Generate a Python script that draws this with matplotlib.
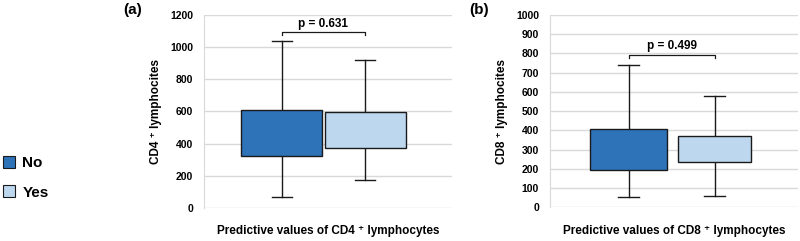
import matplotlib.pyplot as plt
from matplotlib.patches import Patch

# font settings
plt.rcParams['font.family'] = ['Liberation Sans', 'DejaVu Sans']
plt.rcParams['font.weight'] = 'bold'

groups = ["No", "Yes"]
colors = ["#2e72b8", "#bdd7ee"]

# CD4 box stats: whislo, q1, med, q3, whishi
cd4_low = [70, 174]
cd4_q1 = [325, 371]
cd4_med = [455, 468]
cd4_q3 = [610, 597]
cd4_high = [1040, 918]
cd4_p = "p = 0.631"

# CD8 box stats
cd8_low = [52, 60]
cd8_q1 = [194, 235]
cd8_med = [276, 294]
cd8_q3 = [409, 371]
cd8_high = [740, 579]
cd8_p = "p = 0.499"


def make_stats(lo, q1, med, q3, hi):
	stats = []
	for i in range(len(groups)):
		stats.append({"whislo": lo[i], "q1": q1[i], "med": med[i],
			"q3": q3[i], "whishi": hi[i], "fliers": []})
	return stats


def draw_panel(ax, stats, widths, ymax, ystep, xlim, ylabel, xlabel, ptxt, pbar):
	bp = ax.bxp(stats, positions=[1, 2], widths=widths, patch_artist=True,
		showfliers=False, capwidths=0.24,
		boxprops=dict(edgecolor="#1a1a1a", linewidth=1.0),
		medianprops=dict(color="#1a1a1a", linewidth=1.0),
		whiskerprops=dict(color="#1a1a1a", linewidth=1.0),
		capprops=dict(color="#1a1a1a", linewidth=1.0))
	for patch, c in zip(bp["boxes"], colors):
		patch.set_facecolor(c)
		patch.set_zorder(3)

	ax.set_xlim(xlim)
	ax.set_ylim(0, ymax)
	ax.set_yticks(range(0, ymax + 1, ystep))
	ax.set_xticks([])
	ax.yaxis.grid(True, color="#d9d9d9", linewidth=1.0)
	ax.set_axisbelow(True)
	for s in ["top", "right", "bottom"]:
		ax.spines[s].set_visible(False)
	ax.spines["left"].set_color("#d9d9d9")
	ax.tick_params(axis="y", length=0, labelsize=7.5, pad=8)
	for lab in ax.get_yticklabels():
		lab.set_fontweight("bold")
	ax.set_ylabel(ylabel, fontsize=8.5, fontweight="bold", labelpad=6)
	ax.set_xlabel(xlabel, fontsize=8.5, fontweight="bold", labelpad=12.5)

	# significance bracket
	yb, tick = pbar
	ax.plot([1, 1, 2, 2], [yb - tick, yb, yb, yb - tick], color="#1a1a1a",
		linewidth=0.9, clip_on=False)
	ax.text(1.5, yb + tick * 0.8, ptxt, ha="center", va="bottom",
		fontsize=8.5, fontweight="bold")


fig = plt.figure(figsize=(8, 2.41), dpi=100)
ax1 = fig.add_axes([0.255, 0.137, 0.31, 0.801])
ax2 = fig.add_axes([0.6875, 0.14, 0.31, 0.798])

draw_panel(ax1, make_stats(cd4_low, cd4_q1, cd4_med, cd4_q3, cd4_high),
	0.97, 1200, 200, (0.072, 3.04), "CD4 \u207a lymphocites",
	"Predictive values of CD4 \u207a lymphocytes", cd4_p, (1095, 18))
draw_panel(ax2, make_stats(cd8_low, cd8_q1, cd8_med, cd8_q3, cd8_high),
	[0.9, 0.85], 1000, 100, (0.087, 2.97), "CD8 \u207a lymphocites",
	"Predictive values of CD8 \u207a lymphocytes", cd8_p, (793, 15))

fig.text(0.166, 0.94, "(a)", fontsize=11, fontweight="bold", ha="center")
fig.text(0.599, 0.94, "(b)", fontsize=11, fontweight="bold", ha="center")

handles = [Patch(facecolor=c, edgecolor="#1a1a1a", linewidth=0.8) for c in colors]
fig.legend(handles, groups, loc="center left", bbox_to_anchor=(-0.014, 0.262),
	frameon=False, prop={"weight": "bold", "size": 11},
	handlelength=0.8, handleheight=0.8, handletextpad=0.5, labelspacing=1.0)

plt.savefig("out.png", dpi=100)
